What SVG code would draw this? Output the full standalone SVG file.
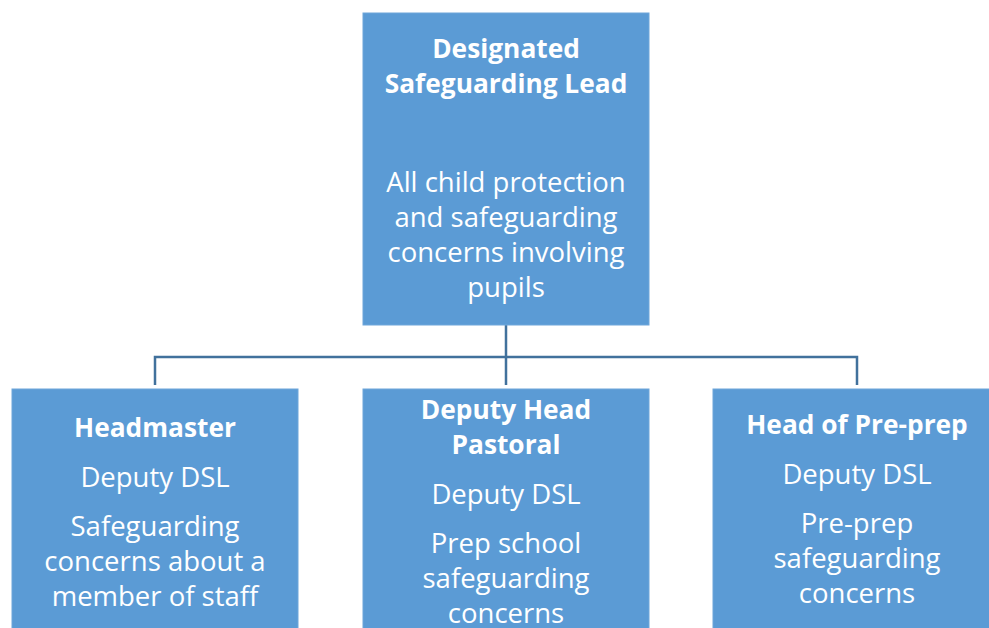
<svg xmlns="http://www.w3.org/2000/svg" width="989" height="628" viewBox="0 0 989 628">
<style>
.box{fill:#5B9BD5;stroke:#6FA6DA;stroke-width:1}
.t{font-family:"Open Sans","Liberation Sans",sans-serif;fill:#FFFFFF;font-size:27.5px;text-anchor:middle}
.b{font-weight:bold;font-size:26.3px}
.conn{fill:none;stroke:#41719C;stroke-width:2.5}
</style>
<rect width="989" height="628" fill="#FFFFFF"/>
<g id="connectors">
<path class="conn" d="M506 325 V357 M155 385 V357 H857 V385 M506 357 V385"/>
</g>
<g id="dsl">
<rect class="box" x="363" y="13" width="286" height="312"/>
<text class="t b" x="506" y="58">Designated</text>
<text class="t b" x="506" y="93">Safeguarding Lead</text>
<text class="t" x="506" y="192">All child protection</text>
<text class="t" x="506" y="227">and safeguarding</text>
<text class="t" x="506" y="262">concerns involving</text>
<text class="t" x="506" y="297">pupils</text>
</g>
<g id="headmaster">
<rect class="box" x="12" y="389" width="286" height="250"/>
<text class="t b" x="155" y="437">Headmaster</text>
<text class="t" x="155" y="487">Deputy DSL</text>
<text class="t" x="155" y="536">Safeguarding</text>
<text class="t" x="155" y="571">concerns about a</text>
<text class="t" x="155" y="606">member of staff</text>
</g>
<g id="deputy-head">
<rect class="box" x="363" y="389" width="286" height="250"/>
<text class="t b" x="506" y="419">Deputy Head</text>
<text class="t b" x="506" y="454">Pastoral</text>
<text class="t" x="506" y="504">Deputy DSL</text>
<text class="t" x="506" y="553">Prep school</text>
<text class="t" x="506" y="588">safeguarding</text>
<text class="t" x="506" y="623">concerns</text>
</g>
<g id="pre-prep">
<rect class="box" x="713" y="389" width="288" height="250"/>
<text class="t b" x="857" y="434">Head of Pre-prep</text>
<text class="t" x="857" y="484">Deputy DSL</text>
<text class="t" x="857" y="533">Pre-prep</text>
<text class="t" x="857" y="568">safeguarding</text>
<text class="t" x="857" y="603">concerns</text>
</g>
</svg>
